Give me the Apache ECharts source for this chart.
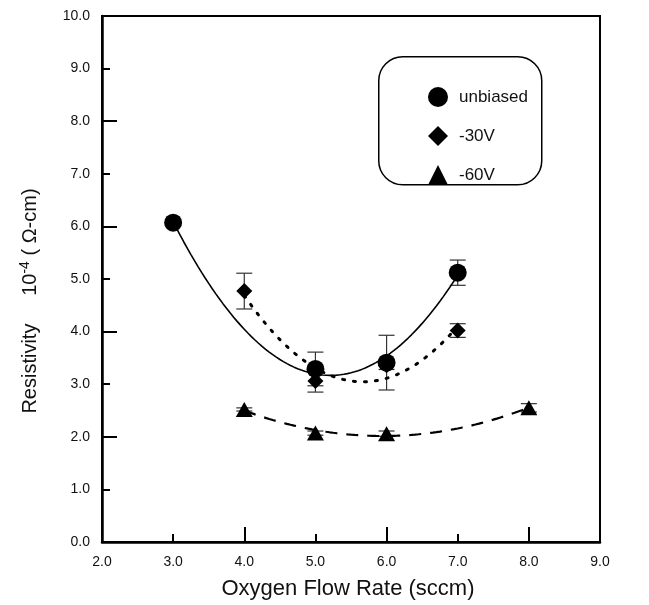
<!DOCTYPE html>
<html><head><meta charset="utf-8">
<script src="https://cdn.jsdelivr.net/npm/echarts@6/dist/echarts.min.js"></script>
<style>html,body{margin:0;padding:0;background:#fff}#c{width:649px;height:605px}</style>
</head><body><div id="c"></div>
<script>
// Data
var seriesNames = ['unbiased', '-30V', '-60V'];
var unbiasedX = [3, 5, 6, 7];
var unbiasedY = [6.07, 3.29, 3.41, 5.12];
var unbiasedErr = [0.05, 0.32, 0.52, 0.24];
var n30X = [4, 5, 6, 7];
var n30Y = [4.77, 3.06, 3.36, 4.02];
var n30Err = [0.34, 0.21, 0.08, 0.13];
var n60X = [4, 5, 6, 8];
var n60Y = [2.52, 2.07, 2.06, 2.55];
var n60Err = [0.03, 0.04, 0.05, 0.08];
var xTicks = [2, 3, 4, 5, 6, 7, 8, 9];
var yTicks = [0, 1, 2, 3, 4, 5, 6, 7, 8, 9, 10];

// quadratic least-squares fit of the read data (the fitted curves)
function quadFit(xs, ys) {
  var S = [0,0,0,0,0], T = [0,0,0];
  for (var i = 0; i < xs.length; i++) {
    var p = 1;
    for (var k = 0; k < 5; k++) { S[k] += p; if (k < 3) T[k] += p * ys[i]; p *= xs[i]; }
  }
  var M = [[S[0],S[1],S[2],T[0]],[S[1],S[2],S[3],T[1]],[S[2],S[3],S[4],T[2]]];
  for (var c = 0; c < 3; c++) {
    for (var r = c + 1; r < 3; r++) {
      var f = M[r][c] / M[c][c];
      for (var j = c; j < 4; j++) M[r][j] -= f * M[c][j];
    }
  }
  var a = [0,0,0];
  for (var r2 = 2; r2 >= 0; r2--) {
    var s = M[r2][3];
    for (var j2 = r2 + 1; j2 < 3; j2++) s -= M[r2][j2] * a[j2];
    a[r2] = s / M[r2][r2];
  }
  return a;
}
function curve(xs, ys) {
  var a = quadFit(xs, ys), x0 = xs[0], x1 = xs[xs.length - 1], out = [];
  for (var i = 0; i <= 80; i++) {
    var x = x0 + (x1 - x0) * i / 80;
    out.push([x, a[0] + a[1] * x + a[2] * x * x]);
  }
  return out;
}
function pts(xs, ys) { return xs.map(function (x, i) { return [x, ys[i]]; }); }
function errData(xs, ys, es) { return xs.map(function (x, i) { return [x, ys[i] - es[i], ys[i] + es[i]]; }); }

function errSeries(data) {
  return {
    type: 'custom', xAxisIndex: 0, yAxisIndex: 0, z: 1, silent: true,
    renderItem: function (params, api) {
      var lo = api.coord([api.value(0), api.value(1)]);
      var hi = api.coord([api.value(0), api.value(2)]);
      var hw = 8;
      var st = { stroke: '#333', lineWidth: 1.2 };
      return { type: 'group', children: [
        { type: 'line', shape: { x1: lo[0], y1: lo[1], x2: hi[0], y2: hi[1] }, style: st },
        { type: 'line', shape: { x1: lo[0] - hw, y1: lo[1], x2: lo[0] + hw, y2: lo[1] }, style: st },
        { type: 'line', shape: { x1: hi[0] - hw, y1: hi[1], x2: hi[0] + hw, y2: hi[1] }, style: st }
      ]};
    },
    encode: { x: 0, y: [1, 2] },
    data: data
  };
}

var fontFam = '"Liberation Sans", Arial, sans-serif';
var chart = echarts.init(document.getElementById('c'), null, { renderer: 'canvas' });
chart.setOption({
  animation: false,
  backgroundColor: '#fff',
  grid: { left: 102, right: 49, top: 16, bottom: 56, show: true, borderColor: '#000', borderWidth: 2 },
  xAxis: [{
    type: 'value', min: 2, max: 9, interval: 1,
    name: 'Oxygen Flow Rate (sccm)', nameLocation: 'middle', nameGap: 36,
    nameTextStyle: { fontFamily: fontFam, fontSize: 22, color: '#111', padding: [0, 6, 0, 0] },
    axisLine: { lineStyle: { color: '#000', width: 2.5 } },
    axisTick: { inside: true, length: 8, lineStyle: { color: '#000', width: 2 } },
    axisLabel: { fontFamily: fontFam, fontSize: 14, color: '#111', margin: 13,
      formatter: function (v) { return v.toFixed(1); } },
    splitLine: { show: false }
  }, {
    type: 'value', min: 2, max: 9, interval: 2, position: 'bottom',
    axisLine: { show: false },
    axisTick: { inside: true, length: 15, lineStyle: { color: '#000', width: 2 } },
    axisLabel: { show: false }, splitLine: { show: false }
  }],
  yAxis: [{
    type: 'value', min: 0, max: 10, interval: 1,
    name: 'Resistivity     10{sup|-4} ( Ω-cm)', nameLocation: 'middle', nameGap: 60,
    nameTextStyle: { fontFamily: fontFam, fontSize: 20, color: '#111', padding: [0, 44, 0, 0],
      rich: { sup: { fontFamily: fontFam, fontSize: 14, padding: [0, 0, 10, 0], color: '#111' } } },
    axisLine: { lineStyle: { color: '#000', width: 2.5 } },
    axisTick: { inside: true, length: 8, lineStyle: { color: '#000', width: 2 } },
    axisLabel: { fontFamily: fontFam, fontSize: 14, color: '#111', margin: 12,
      formatter: function (v) { return v.toFixed(1); } },
    splitLine: { show: false }
  }, {
    type: 'value', min: 0, max: 10, interval: 2, position: 'left',
    axisLine: { show: false },
    axisTick: { inside: true, length: 15, lineStyle: { color: '#000', width: 2 } },
    axisLabel: { show: false }, splitLine: { show: false }
  }],
  legend: {
    orient: 'vertical', left: 423, top: 82, itemWidth: 20, itemHeight: 20, itemGap: 19,
    data: seriesNames,
    textStyle: { fontFamily: fontFam, fontSize: 17, color: '#111', padding: [0, 0, 0, 6], lineHeight: 20 }
  },
  graphic: [{
    type: 'rect', left: 378, top: 56, z: -1,
    shape: { width: 163, height: 128, r: 24 },
    style: { fill: '#fff', stroke: '#000', lineWidth: 1.5 }
  }],
  series: [
    { type: 'line', data: curve(unbiasedX, unbiasedY), showSymbol: false,
      lineStyle: { color: '#000', width: 1.6 }, z: 2, silent: true },
    { type: 'line', data: curve(n30X, n30Y), showSymbol: false,
      lineStyle: { color: '#000', width: 3, type: [2, 9], cap: 'round' }, z: 2, silent: true },
    { type: 'line', data: curve(n60X, n60Y), showSymbol: false,
      lineStyle: { color: '#000', width: 2.2, type: [12, 9] }, z: 2, silent: true },
    errSeries(errData(unbiasedX, unbiasedY, unbiasedErr)),
    errSeries(errData(n30X, n30Y, n30Err)),
    errSeries(errData(n60X, n60Y, n60Err)),
    { name: 'unbiased', type: 'scatter', symbol: 'circle', symbolSize: 18, data: pts(unbiasedX, unbiasedY),
      itemStyle: { color: '#000', opacity: 1 }, z: 4 },
    { name: '-30V', type: 'scatter', symbol: 'diamond', symbolSize: 16, data: pts(n30X, n30Y),
      itemStyle: { color: '#000', opacity: 1 }, z: 3 },
    { name: '-60V', type: 'scatter', symbol: 'triangle', symbolSize: [17, 15], data: pts(n60X, n60Y),
      itemStyle: { color: '#000', opacity: 1 }, z: 3 }
  ]
});
</script>
</body></html>
